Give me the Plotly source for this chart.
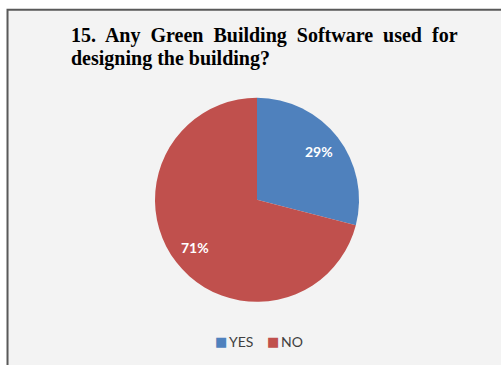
import math
import plotly.graph_objects as go

categories = ["YES", "NO"]
values = [29, 71]
colors = ["#4f81bd", "#c0504d"]
title_lines = ["15.&nbsp; Any&nbsp; Green&nbsp; Building&nbsp; Software&nbsp; used&nbsp; for",
               "designing the building?"]

dom_x = [0.309, 0.717]
dom_y = [0.173, 0.732]
W, H = 501, 365

fig = go.Figure()
fig.add_trace(go.Pie(
    labels=categories,
    values=values,
    marker=dict(colors=colors, line=dict(width=0)),
    sort=False,
    direction="clockwise",
    rotation=0,
    textinfo="none",
    domain=dict(x=dom_x, y=dom_y),
    hoverinfo="label+percent",
    showlegend=False,
))

# percentage labels placed along each slice's mid-angle
cx = (dom_x[0] + dom_x[1]) / 2
cy = (dom_y[0] + dom_y[1]) / 2
R = min((dom_x[1] - dom_x[0]) * W, (dom_y[1] - dom_y[0]) * H) / 2
total = sum(values)
annotations = []
cum = 0
for v in values:
    mid = (cum + v / 2) / total * 2 * math.pi
    cum += v
    r = 0.77 * R
    annotations.append(dict(
        x=cx + r * math.sin(mid) / W, y=cy + r * math.cos(mid) / H,
        xref="paper", yref="paper", showarrow=False,
        xanchor="center", yanchor="middle",
        text=f"{round(v / total * 100)}%",
        font=dict(family="Lato", size=14, color="white", weight="bold"),
    ))

# title (two lines, tighter line spacing like the original)
for i, line in enumerate(title_lines):
    annotations.append(dict(
        x=0.138, y=1 - (22 + 22.5 * i) / H, xref="paper", yref="paper",
        xanchor="left", yanchor="top", align="left", showarrow=False,
        text=line,
        font=dict(family="Liberation Serif", size=20, color="black", weight="bold"),
    ))

# legend: colour swatch + label for each category
legend_x = [0.428, 0.530]  # left edge of each swatch (paper)
for lab, c, lx in zip(categories, colors, legend_x):
    annotations.append(dict(
        x=lx, y=1 - 341 / H, xref="paper", yref="paper",
        xanchor="left", yanchor="middle", showarrow=False, borderpad=0,
        text="■", font=dict(family="DejaVu Sans", size=13, color=c),
    ))
    annotations.append(dict(
        x=lx + 14 / W, y=1 - 341 / H, xref="paper", yref="paper",
        xanchor="left", yanchor="middle", showarrow=False, borderpad=0,
        text=lab, font=dict(family="Lato", size=14, color="#404040"),
    ))

fig.update_layout(
    width=W, height=H,
    margin=dict(l=0, r=0, t=0, b=0),
    paper_bgcolor="white",
    plot_bgcolor="white",
    annotations=annotations,
    shapes=[dict(
        type="rect", xref="paper", yref="paper",
        x0=0.015, x1=1.05, y0=-0.05, y1=0.973,
        line=dict(color="#595959", width=2),
        fillcolor="#f3f3f3",
        layer="below",
    )],
)

fig.write_html("out.html")
